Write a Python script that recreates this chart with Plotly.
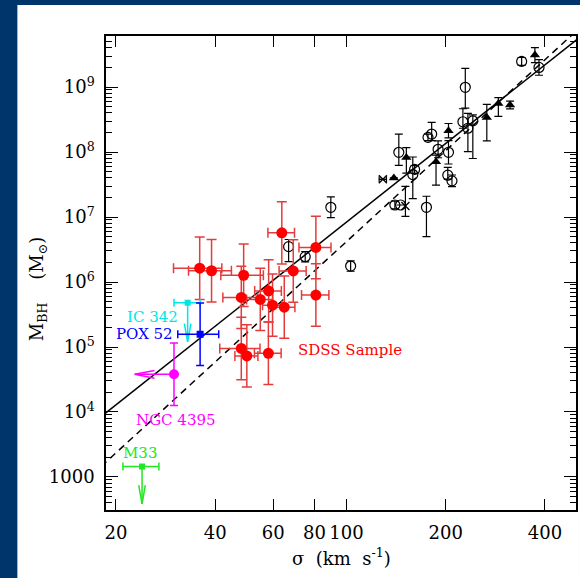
import numpy as np
import plotly.graph_objects as go

# ---------------- data ----------------
# SDSS sample (red)
sdss_sigma = [35.9, 39.0, 48.8, 48.0, 54.8, 58.1, 59.7, 64.8, 69.0, 63.7, 80.8, 80.8, 48.0, 49.9, 58.0]
sdss_sigma_err = [6.0, 5.8, 7.2, 5.8, 5.0, 5.4, 4.0, 5.0, 6.5, 5.9, 9.0, 7.7, 6.7, 4.0, 5.4]
sdss_mbh = [1.63e6, 1.49e6, 1.27e6, 5.8e5, 5.4e5, 7.3e5, 4.4e5, 4.1e5, 1.48e6, 5.7e6, 3.4e6, 6.3e5, 9.5e4, 7.3e4, 8.0e4]
sdss_dex_err = [0.48] * 15

# literature galaxies: open circles
circ_sigma = [66.8, 75.0, 89.7, 103, 144.2, 161, 159, 140.3, 146, 174.9, 176.8, 181.4, 189.7, 204,
              203, 209, 229.4, 225.6, 241.8, 233.6, 340, 383.8]
circ_mbh = [3.5e6, 2.45e6, 1.41e7, 1.76e6, 9.9e7, 5.4e7, 4.5e7, 1.53e7, 1.53e7, 1.41e7, 1.68e8, 1.89e8,
            1.1e8, 9.9e7, 4.4e7, 3.6e7, 9.9e8, 2.92e8, 3.02e8, 2.32e8, 2.48e9, 2.0e9]
circ_err_up = [0.11, 0.08, 0.16, 0.08, 0.28, 0.06, 0.27, 0.06, 0.0, 0.17, 0.05, 0.18, 0.13, 0.18,
               0.12, 0.09, 0.29, 0.20, 0.09, 0.23, 0.06, 0.12]
circ_err_dn = [0.23, 0.08, 0.16, 0.08, 0.20, 0.06, 0.37, 0.06, 0.0, 0.45, 0.05, 0.10, 0.13, 0.18,
               0.06, 0.09, 0.32, 0.10, 0.58, 0.36, 0.06, 0.12]

# filled triangles
tri_sigma = [139.3, 152, 187, 204, 266.6, 289, 313.6, 373]
tri_mbh = [4.0e7, 8.2e7, 7.1e7, 2.13e8, 3.4e8, 5.6e8, 5.3e8, 3.1e9]
tri_err_up = [0.0, 0.155, 0.10, 0.11, 0.20, 0.09, 0.06, 0.115]
tri_err_dn = [0.0, 0.24, 0.36, 0.11, 0.36, 0.20, 0.06, 0.115]

# crosses
cross_sigma = [129, 151]
cross_sigma_err = [3.3, 0.0]
cross_mbh = [3.8e7, 1.48e7]
cross_err_up = [0.0, 0.30]
cross_err_dn = [0.0, 0.16]

# individual low-mass objects
ic342_sigma, ic342_sigma_err, ic342_mbh, ic342_limit = 33.0, 3.0, 4.8e5, 1.2e5
pox52_sigma, pox52_sig_lo, pox52_sig_hi, pox52_mbh, pox52_dex = 36.0, 5.2, 5.0, 1.57e5, 0.48
ngc4395_sigma, ngc4395_limit, ngc4395_mbh, ngc4395_dex = 30.0, 22.8, 3.8e4, 0.48
m33_sigma, m33_sigma_err, m33_mbh, m33_limit = 24.0, 3.0, 1.45e3, 385

# M-sigma fits: log M = a + b log(sigma/200)
fit_solid = (8.13, 4.02)
fit_dashed = (8.02, 4.65)
fit_sigma_span = [15, 600]

# ticks
x_ticks = [20, 40, 60, 80, 100, 200, 400]
y_ticks = [1e3, 1e4, 1e5, 1e6, 1e7, 1e8, 1e9]
y_ticktext = ["1000", "10<sup>4</sup>", "10<sup>5</sup>", "10<sup>6</sup>",
              "10<sup>7</sup>", "10<sup>8</sup>", "10<sup>9</sup>"]

FONT = "DejaVu Serif"


def dex_errs(m, up, dn):
    m = np.asarray(m, float)
    return (m * (10 ** np.asarray(up, float) - 1)).tolist(), (m * (1 - 10 ** -np.asarray(dn, float))).tolist()


fig = go.Figure()

# fit lines
s = np.array(fit_sigma_span, float)
for (a, b), dash in [(fit_solid, "solid"), (fit_dashed, "7px,5px")]:
    fig.add_trace(go.Scatter(x=s, y=10 ** (a + b * np.log10(s / 200.0)), mode="lines",
                             line=dict(color="black", width=1.5, dash=dash), hoverinfo="skip"))

# black open circles
up, dn = dex_errs(circ_mbh, circ_err_up, circ_err_dn)
fig.add_trace(go.Scatter(x=circ_sigma, y=circ_mbh, mode="markers",
                         marker=dict(symbol="circle-open", size=10, color="black", line=dict(width=1.2)),
                         error_y=dict(type="data", array=up, arrayminus=dn, color="black", thickness=1.2, width=4)))
# triangles
up, dn = dex_errs(tri_mbh, tri_err_up, tri_err_dn)
fig.add_trace(go.Scatter(x=tri_sigma, y=tri_mbh, mode="markers",
                         marker=dict(symbol="triangle-up", size=9, color="black"),
                         error_y=dict(type="data", array=up, arrayminus=dn, color="black", thickness=1.2, width=4)))
# crosses
up, dn = dex_errs(cross_mbh, cross_err_up, cross_err_dn)
fig.add_trace(go.Scatter(x=cross_sigma, y=cross_mbh, mode="markers",
                         marker=dict(symbol="x-thin-open", size=8, color="black", line=dict(width=1.3, color="black")),
                         error_x=dict(type="data", array=cross_sigma_err, color="black", thickness=1.2, width=3),
                         error_y=dict(type="data", array=up, arrayminus=dn, color="black", thickness=1.2, width=4)))

# SDSS sample
up, dn = dex_errs(sdss_mbh, sdss_dex_err, sdss_dex_err)
fig.add_trace(go.Scatter(x=sdss_sigma, y=sdss_mbh, mode="markers",
                         marker=dict(symbol="circle", size=11, color="#ff0000"),
                         error_x=dict(type="data", array=sdss_sigma_err, color="rgb(228,60,60)", thickness=1.5, width=5),
                         error_y=dict(type="data", array=up, arrayminus=dn, color="rgb(228,60,60)", thickness=1.5, width=5)))


def down_arrow(x, y0, ytip, color, head_dex=0.28, half_w=0.01):
    xs = [x, x, None, x * 10 ** -half_w, x, x * 10 ** half_w]
    ys = [y0, ytip, None, ytip * 10 ** head_dex, ytip, ytip * 10 ** head_dex]
    fig.add_trace(go.Scatter(x=xs, y=ys, mode="lines", line=dict(color=color, width=1.5), hoverinfo="skip"))


def left_arrow(x0, xtip, y, color, head_log=0.06, half_h=0.06):
    xs = [x0, xtip, None, xtip * 10 ** head_log, xtip, xtip * 10 ** head_log]
    ys = [y, y, None, y * 10 ** half_h, y, y * 10 ** -half_h]
    fig.add_trace(go.Scatter(x=xs, y=ys, mode="lines", line=dict(color=color, width=1.5), hoverinfo="skip"))


CYAN, BLUE, MAGENTA, GREEN, RED = "#00e6e6", "#0000ff", "#ff00ff", "#22e622", "#ff0000"

# IC 342
down_arrow(ic342_sigma, ic342_mbh, ic342_limit, CYAN)
fig.add_trace(go.Scatter(x=[ic342_sigma], y=[ic342_mbh], mode="markers",
                         marker=dict(symbol="square", size=6, color=CYAN),
                         error_x=dict(type="data", array=[ic342_sigma_err], color=CYAN, thickness=1.5, width=4)))
# POX 52
up, dn = dex_errs([pox52_mbh], [pox52_dex], [pox52_dex])
fig.add_trace(go.Scatter(x=[pox52_sigma], y=[pox52_mbh], mode="markers",
                         marker=dict(symbol="square", size=7, color=BLUE),
                         error_x=dict(type="data", array=[pox52_sig_hi], arrayminus=[pox52_sig_lo], color=BLUE, thickness=1.5, width=4),
                         error_y=dict(type="data", array=up, arrayminus=dn, color=BLUE, thickness=1.5, width=4)))
# NGC 4395
left_arrow(ngc4395_sigma, ngc4395_limit, ngc4395_mbh, MAGENTA)
up, dn = dex_errs([ngc4395_mbh], [ngc4395_dex], [ngc4395_dex])
fig.add_trace(go.Scatter(x=[ngc4395_sigma], y=[ngc4395_mbh], mode="markers",
                         marker=dict(symbol="circle", size=10, color=MAGENTA),
                         error_y=dict(type="data", array=up, arrayminus=dn, color=MAGENTA, thickness=1.5, width=4)))
# M33
down_arrow(m33_sigma, m33_mbh, m33_limit, GREEN, head_dex=0.29)
fig.add_trace(go.Scatter(x=[m33_sigma], y=[m33_mbh], mode="markers",
                         marker=dict(symbol="square", size=6, color=GREEN),
                         error_x=dict(type="data", array=[m33_sigma_err], color=GREEN, thickness=1.5, width=4)))

# labels
labels = [("IC 342", 25.9, 5.466, CYAN), ("POX 52", 24.4, 5.195, BLUE),
          ("NGC 4395", 30.5, 3.877, MAGENTA), ("M33", 23.7, 3.365, GREEN),
          ("SDSS Sample", 102.4, 4.954, RED)]
for txt, sx, ly, col in labels:
    fig.add_annotation(x=np.log10(sx), y=ly, xref="x", yref="y", text=txt, showarrow=False,
                       font=dict(family=FONT, size=15, color=col), xanchor="center", yanchor="middle")

# axis titles as annotations
fig.add_annotation(x=(343 - 106) / 472, y=(510 - 557) / 474, xref="paper", yref="paper",
                   text="σ&nbsp;&nbsp;(km&nbsp;&nbsp;s<sup>-1</sup>)", showarrow=False,
                   font=dict(family=FONT, size=18, color="black"), xanchor="center", yanchor="middle")
fig.add_annotation(x=(38 - 106) / 472, y=(510 - 289) / 474, xref="paper", yref="paper",
                   text="M<sub>BH</sub>&nbsp;&nbsp;&nbsp;&nbsp;(M<sub>⊙</sub>)", showarrow=False, textangle=-90,
                   font=dict(family=FONT, size=18, color="black"), xanchor="center", yanchor="middle")

# white panel on dark-blue background
fig.add_shape(type="rect", xref="paper", yref="paper", x0=(17 - 106) / 472, x1=(582 - 106) / 472,
              y0=(510 - 580) / 474, y1=(510 - 5) / 474, fillcolor="white", line=dict(width=0), layer="below")

y_minor = [m * 10 ** k for k in range(2, 10) for m in range(2, 10)]

fig.update_xaxes(type="log", range=[np.log10(18.66), np.log10(497)], tickmode="array",
                 tickvals=x_ticks, ticktext=[str(v) for v in x_ticks],
                 ticks="inside", ticklen=11, tickwidth=1.2, tickcolor="black",
                 showline=True, linecolor="black", linewidth=1.5, mirror="ticks",
                 showgrid=False, zeroline=False, ticklabelstandoff=6,
                 tickfont=dict(family=FONT, size=18, color="black"))
fig.update_yaxes(type="log", range=[2.492, 9.785], tickmode="array",
                 tickvals=y_ticks, ticktext=y_ticktext,
                 ticks="inside", ticklen=12, tickwidth=1.2, tickcolor="black",
                 minor=dict(tickmode="array", tickvals=y_minor, ticks="inside", ticklen=6,
                            tickwidth=1, tickcolor="black", showgrid=False),
                 showline=True, linecolor="black", linewidth=1.5, mirror="ticks",
                 showgrid=False, zeroline=False, ticklabelstandoff=6,
                 tickfont=dict(family=FONT, size=18, color="black"))

fig.update_layout(width=580, height=578, autosize=False,
                  margin=dict(l=106, r=2, t=36, b=68, pad=0),
                  paper_bgcolor="#00356b", plot_bgcolor="white",
                  showlegend=False, hovermode=False)

fig.write_html("out.html")
